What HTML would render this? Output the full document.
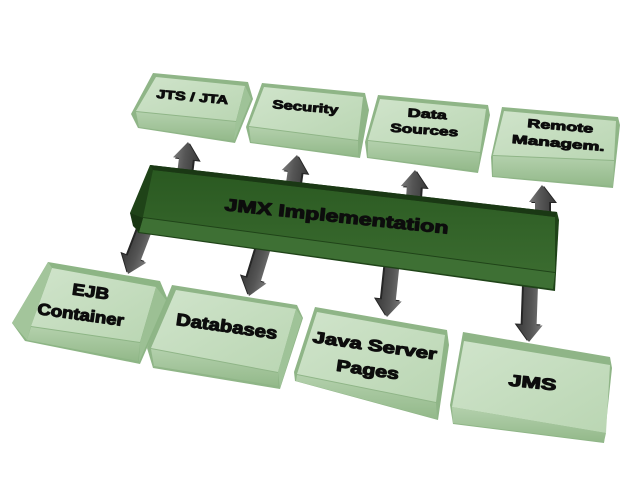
<!DOCTYPE html>
<html><head><meta charset="utf-8"><style>
html,body{margin:0;padding:0;background:#fff;}
svg{display:block;}
text{font-family:"Liberation Sans",Arial,sans-serif;font-weight:bold;fill:#0d0d0d;stroke:#0d0d0d;stroke-width:0.9;stroke-linejoin:round;}
text.b{stroke-width:1.1;}
</style></head><body>
<svg width="640" height="480" viewBox="0 0 640 480" xmlns="http://www.w3.org/2000/svg">
<defs>
<linearGradient id="lt" x1="0" y1="0" x2="1" y2="1">
<stop offset="0" stop-color="#d0e4cb"/><stop offset="1" stop-color="#bad6b3"/></linearGradient>
<linearGradient id="fr" x1="0" y1="0" x2="0" y2="1">
<stop offset="0" stop-color="#b3d0ac"/><stop offset="1" stop-color="#93b98a"/></linearGradient>
<linearGradient id="dk" x1="0" y1="0" x2="0" y2="1">
<stop offset="0" stop-color="#2a5921"/><stop offset="1" stop-color="#3a6b2f"/></linearGradient>
<linearGradient id="ar" x1="0" y1="0" x2="1" y2="0">
<stop offset="0" stop-color="#7a7a7a"/><stop offset="0.45" stop-color="#555"/><stop offset="1" stop-color="#3a3a3a"/></linearGradient>
<polygon id="arr" points="0,0 13,17 7,17 7,60 -7,60 -7,17 -13,17"/>
</defs>

<!-- Top row boxes -->
<g>
<polygon points="153,73 248,82 253,99 235,143 138,128 131,114" fill="#8fb587"/>
<polygon points="156,77 245,86 236,121 136,111" fill="url(#lt)"/>
<polygon points="136,112 236,122 234,141 139,127" fill="url(#fr)"/>
<polygon points="245,86 251,99 234,141 236,122" fill="#9fc398"/>
</g>
<g>
<polygon points="262,83 365,93 369,110 360,158 250,143 246,127" fill="#8fb587"/>
<polygon points="264,87 363,97 358,140 249,126" fill="url(#lt)"/>
<polygon points="249,127 358,141 358,156 251,142" fill="url(#fr)"/>
</g>
<g>
<polygon points="378,95 488,105 490,115 478,173 367,158 365,142" fill="#8fb587"/>
<polygon points="380,99 486,109 480,152 368,140" fill="url(#lt)"/>
<polygon points="368,141 480,153 478,171 368,157" fill="url(#fr)"/>
</g>
<g>
<polygon points="502,107 618,117 620,125 613,188 492,177 491,157" fill="#8fb587"/>
<polygon points="504,111 616,121 614,160 493,155" fill="url(#lt)"/>
<polygon points="493,156 614,161 613,186 493,176" fill="url(#fr)"/>
</g>

<text transform="translate(192,101) rotate(5)" text-anchor="middle" font-size="12" textLength="72" lengthAdjust="spacingAndGlyphs">JTS / JTA</text>
<text transform="translate(305,111) rotate(5)" text-anchor="middle" font-size="12" textLength="66" lengthAdjust="spacingAndGlyphs">Security</text>
<text transform="translate(427,118) rotate(4)" text-anchor="middle" font-size="12" textLength="39" lengthAdjust="spacingAndGlyphs">Data</text>
<text transform="translate(424,134) rotate(4)" text-anchor="middle" font-size="12" textLength="68" lengthAdjust="spacingAndGlyphs">Sources</text>
<text transform="translate(560,130) rotate(5)" text-anchor="middle" font-size="12" textLength="66" lengthAdjust="spacingAndGlyphs">Remote</text>
<text transform="translate(558,147) rotate(5)" text-anchor="middle" font-size="12" textLength="93" lengthAdjust="spacingAndGlyphs">Managem.</text>

<!-- Bottom row boxes -->
<g>
<polygon points="172,285 297,305 303,318 280,389 153,368 147,348" fill="#8fb587"/>
<polygon points="176,290 296,309 278,372 151,348" fill="url(#lt)"/>
<polygon points="151,349 278,373 278,386 154,366" fill="url(#fr)"/>
<polygon points="296,309 302,318 280,388 278,372" fill="#9fc398"/>
</g>
<g>
<polygon points="48,262 160,281 168,300 140,364 25,341 12,323" fill="#8db585"/>
<polygon points="52,268 156,287 140,342 31,326" fill="url(#lt)"/>
<polygon points="31,327 140,343 138,361 27,340" fill="url(#fr)"/>
<polygon points="156,287 166,300 139,362 140,343" fill="#9cc094"/>
<polygon points="48,262 52,268 31,326 27,340 12,323" fill="#a3c59b"/>
</g>
<g>
<polygon points="315,307 447,330 449,345 438,420 295,381 294,372" fill="#8fb587"/>
<polygon points="317,312 445,335 436,402 297,374" fill="url(#lt)"/>
<polygon points="297,375 436,403 437,419 296,381" fill="url(#fr)"/>
</g>
<g>
<polygon points="463,332 610,357 612,368 604,443 453,424 450,405" fill="#8fb587"/>
<polygon points="464,341 610,365 606,433 452,407" fill="url(#lt)"/>
<polygon points="452,407 606,433 604,442 453,423" fill="url(#fr)"/>
</g>

<text class="b" transform="translate(90,297) rotate(8)" text-anchor="middle" font-size="16" textLength="37" lengthAdjust="spacingAndGlyphs">EJB</text>
<text class="b" transform="translate(80,320) rotate(8)" text-anchor="middle" font-size="16" textLength="87" lengthAdjust="spacingAndGlyphs">Container</text>
<text class="b" transform="translate(226,332) rotate(8)" text-anchor="middle" font-size="17" textLength="102" lengthAdjust="spacingAndGlyphs">Databases</text>
<text class="b" transform="translate(374,351) rotate(8)" text-anchor="middle" font-size="16" textLength="125" lengthAdjust="spacingAndGlyphs">Java Server</text>
<text class="b" transform="translate(367,375) rotate(8)" text-anchor="middle" font-size="16" textLength="63" lengthAdjust="spacingAndGlyphs">Pages</text>
<text class="b" transform="translate(532,388) rotate(6)" text-anchor="middle" font-size="16" textLength="48" lengthAdjust="spacingAndGlyphs">JMS</text>

<!-- Arrows up -->
<g transform="translate(188,142) rotate(7)"><use href="#arr" transform="translate(2,1)" fill="#262626"/><use href="#arr" fill="url(#ar)"/></g>
<g transform="translate(297,155) rotate(8)"><use href="#arr" transform="translate(2,1)" fill="#262626"/><use href="#arr" fill="url(#ar)"/></g>
<g transform="translate(415,170) rotate(4)"><use href="#arr" transform="translate(2,1)" fill="#262626"/><use href="#arr" fill="url(#ar)"/></g>
<g transform="translate(542,185) rotate(0)"><use href="#arr" transform="translate(2,1)" fill="#262626"/><use href="#arr" fill="url(#ar)"/></g>
<!-- Arrows down -->
<g transform="translate(128,274) rotate(201)"><use href="#arr" transform="translate(2,1)" fill="#262626"/><use href="#arr" fill="url(#ar)"/></g>
<g transform="translate(249,296) rotate(197)"><use href="#arr" transform="translate(2,1)" fill="#262626"/><use href="#arr" fill="url(#ar)"/></g>
<g transform="translate(387,317) rotate(186)"><use href="#arr" transform="translate(2,1)" fill="#262626"/><use href="#arr" fill="url(#ar)"/></g>
<g transform="translate(529,342) rotate(182)"><use href="#arr" transform="translate(2,1)" fill="#262626"/><use href="#arr" fill="url(#ar)"/></g>

<!-- JMX bar -->
<g>
<polygon points="150,165 557,212 559,220 555,291 138,233 130,213" fill="#1f4318"/>
<polygon points="153,170 555,217 555,272 143,217" fill="url(#dk)"/>
<polygon points="150,165 557,212 555,217 153,170" fill="#1a3814"/>
<polygon points="143,218 555,273 553,289 139,232" fill="#3e7034"/>
<polygon points="130,213 143,218 139,232 133,226" fill="#183612"/>
</g>
<text class="b" transform="translate(336,222) rotate(6)" text-anchor="middle" font-size="17" textLength="225" lengthAdjust="spacingAndGlyphs">JMX Implementation</text>
</svg>
</body></html>
